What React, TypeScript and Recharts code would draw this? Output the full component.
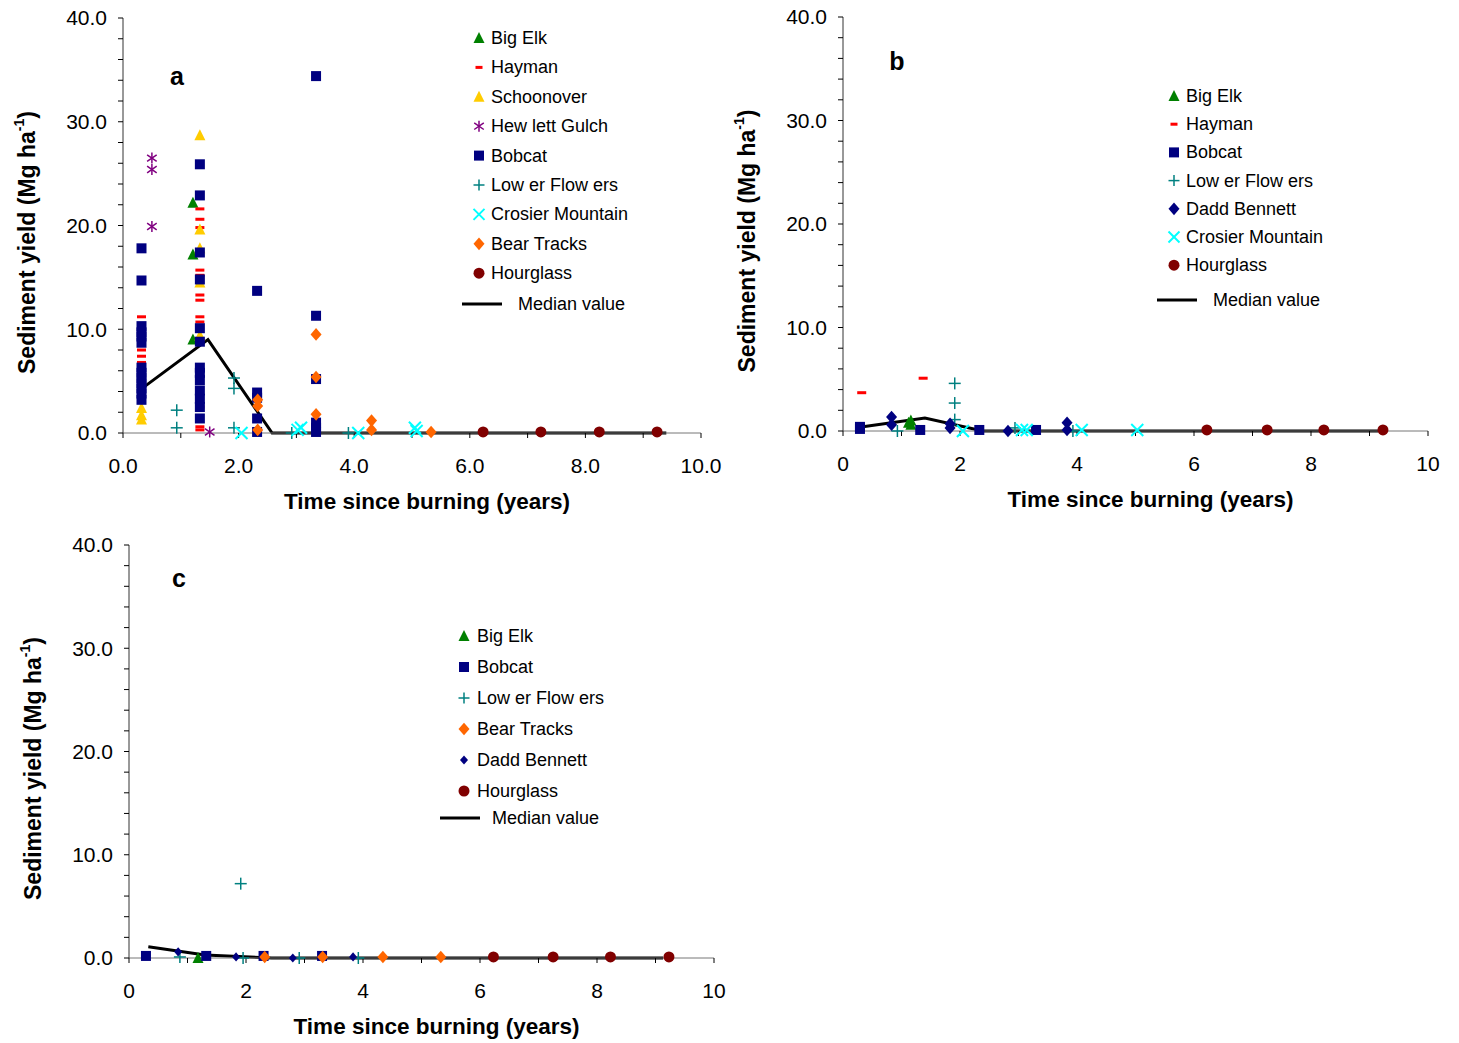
import React from "react";
import { ComposedChart, Scatter, Line, XAxis, YAxis, Legend } from "recharts";

type Pt = [number, number];

// ---- panel a ----
const aBigElk: Pt[] = [[1.21, 22.2], [1.21, 17.2], [1.21, 9.0]];
const aHayman: Pt[] = [
  [0.32, 11.2], [0.32, 9.5], [0.32, 8.0], [0.32, 7.4], [0.32, 6.8], [0.32, 5.5], [0.32, 3.0],
  [1.33, 21.6], [1.33, 20.6], [1.33, 19.8], [1.33, 15.7], [1.33, 15.2], [1.33, 13.3],
  [1.33, 12.8], [1.33, 11.2], [1.33, 10.7], [1.33, 2.5], [1.33, 0.6], [1.33, 0.3],
];
const aSchoonover: Pt[] = [
  [0.32, 2.4], [0.32, 1.7], [0.32, 1.3],
  [1.33, 28.7], [1.33, 19.6], [1.33, 17.8], [1.33, 14.5], [1.33, 9.4],
];
const aHewlett: Pt[] = [[0.5, 26.5], [0.5, 25.4], [0.5, 19.9], [1.5, 0.1]];
const aBobcat: Pt[] = [
  [0.32, 17.8], [0.32, 14.7], [0.32, 10.3], [0.32, 9.7], [0.32, 9.3], [0.32, 8.7],
  [0.32, 6.3], [0.32, 5.8], [0.32, 5.3], [0.32, 4.8], [0.32, 4.3], [0.32, 3.8], [0.32, 3.2],
  [1.33, 25.9], [1.33, 22.9], [1.33, 17.4], [1.33, 14.8], [1.33, 10.1], [1.33, 8.8],
  [1.33, 6.3], [1.33, 5.8], [1.33, 5.1], [1.33, 4.1], [1.33, 3.3], [1.33, 2.5], [1.33, 1.4],
  [2.32, 13.7], [2.32, 3.9], [2.32, 3.4], [2.32, 1.4], [2.32, 0.1],
  [3.34, 34.4], [3.34, 11.3], [3.34, 5.2], [3.34, 1.0], [3.34, 0.5], [3.34, 0.1],
];
const aLowerFlowers: Pt[] = [
  [0.93, 2.2], [0.93, 0.5], [1.92, 5.3], [1.92, 4.3], [1.92, 0.5], [2.92, 0.0], [3.9, 0.0],
];
const aCrosier: Pt[] = [[2.05, 0.0], [3.02, 0.3], [3.08, 0.5], [4.07, 0.0], [5.05, 0.5], [5.08, 0.2]];
const aBearTracks: Pt[] = [
  [2.33, 3.2], [2.33, 2.6], [2.33, 0.3], [3.34, 9.5], [3.34, 5.4], [3.34, 1.8],
  [4.3, 1.2], [4.3, 0.3], [5.33, 0.1],
];
const aHourglass: Pt[] = [[6.23, 0.1], [7.23, 0.1], [8.24, 0.1], [9.24, 0.1]];
const aMedian: Pt[] = [[0.33, 4.3], [1.47, 9.0], [2.58, 0.0], [9.4, 0.0]];

// ---- panel b ----
const bBigElk: Pt[] = [[1.16, 1.0], [1.12, 0.8], [1.16, 0.6]];
const bHayman: Pt[] = [[0.32, 3.7], [1.37, 5.1]];
const bBobcat: Pt[] = [[0.29, 0.4], [0.29, 0.2], [1.32, 0.1], [2.33, 0.1], [3.3, 0.1]];
const bLowerFlowers: Pt[] = [[0.93, 0.0], [1.91, 4.6], [1.91, 2.7], [1.91, 1.1], [2.94, 0.3], [3.93, 0.0]];
const bDadd: Pt[] = [[0.83, 1.35], [0.83, 0.6], [1.83, 0.7], [1.83, 0.3], [2.82, 0.0], [3.83, 0.8], [3.83, 0.1]];
const bCrosier: Pt[] = [[2.05, 0.0], [3.06, 0.1], [3.14, 0.1], [4.08, 0.1], [5.03, 0.1]];
const bHourglass: Pt[] = [[6.22, 0.1], [7.25, 0.1], [8.22, 0.1], [9.23, 0.1]];
const bMedian: Pt[] = [[0.34, 0.4], [1.4, 1.25], [2.39, 0.0], [9.15, 0.0]];

// ---- panel c ----
const cBigElk: Pt[] = [[1.18, 0.0]];
const cBobcat: Pt[] = [[0.29, 0.2], [1.32, 0.2], [2.3, 0.2], [3.3, 0.2]];
const cLowerFlowers: Pt[] = [[0.87, 0.1], [1.91, 7.2], [1.95, 0.0], [2.91, 0.0], [3.92, 0.0]];
const cBearTracks: Pt[] = [[2.32, 0.1], [3.31, 0.1], [4.34, 0.1], [5.33, 0.1]];
const cDadd: Pt[] = [[0.84, 0.6], [1.83, 0.1], [2.8, 0.0], [3.83, 0.1]];
const cHourglass: Pt[] = [[6.23, 0.1], [7.25, 0.1], [8.23, 0.1], [9.23, 0.1]];
const cMedian: Pt[] = [[0.33, 1.1], [1.3, 0.3], [2.44, 0.0], [9.13, 0.0]];

const xTicks = [0, 1, 2, 3, 4, 5, 6, 7, 8, 9, 10];
const yTicks = [0, 2, 4, 6, 8, 10, 12, 14, 16, 18, 20, 22, 24, 26, 28, 30, 32, 34, 36, 38, 40];

const FONT = "'Liberation Sans', Arial, Helvetica, sans-serif";

type Kind = "tri" | "dash" | "star" | "square" | "plus" | "cross" | "diamond" | "circle";
type Spec = { name: string; kind: Kind; color: string; size: number };

const bigElk: Spec = { name: "Big Elk", kind: "tri", color: "#008000", size: 11 };
const hayman: Spec = { name: "Hayman", kind: "dash", color: "#ff0000", size: 9 };
const schoonover: Spec = { name: "Schoonover", kind: "tri", color: "#ffcc00", size: 11 };
const hewlett: Spec = { name: "Hew lett Gulch", kind: "star", color: "#800080", size: 11 };
const bobcat: Spec = { name: "Bobcat", kind: "square", color: "#000080", size: 10 };
const lowerFlowers: Spec = { name: "Low er Flow ers", kind: "plus", color: "#008080", size: 12 };
const crosier: Spec = { name: "Crosier Mountain", kind: "cross", color: "#00ffff", size: 12 };
const bearTracks: Spec = { name: "Bear Tracks", kind: "diamond", color: "#ff6600", size: 11 };
const hourglass: Spec = { name: "Hourglass", kind: "circle", color: "#800000", size: 11 };
const dadd: Spec = { name: "Dadd Bennett", kind: "diamond", color: "#000080", size: 11 };
const daddSmall: Spec = { ...dadd, size: 8 };

function Marker({ kind, cx, cy, color, size }: { kind: Kind; cx: number; cy: number; color: string; size: number }) {
  const h = size / 2;
  switch (kind) {
    case "tri":
      return <polygon points={`${cx},${cy - h * 1.1} ${cx + h},${cy + h * 0.9} ${cx - h},${cy + h * 0.9}`} fill={color} />;
    case "dash":
      return <rect x={cx - h} y={cy - 1.5} width={size} height={3} fill={color} />;
    case "square":
      return <rect x={cx - h} y={cy - h} width={size} height={size} fill={color} />;
    case "circle":
      return <circle cx={cx} cy={cy} r={h} fill={color} />;
    case "diamond":
      return <polygon points={`${cx},${cy - h * 1.15} ${cx + h},${cy} ${cx},${cy + h * 1.15} ${cx - h},${cy}`} fill={color} />;
    case "plus":
      return (
        <g stroke={color} strokeWidth={1.5}>
          <line x1={cx - h} y1={cy} x2={cx + h} y2={cy} />
          <line x1={cx} y1={cy - h} x2={cx} y2={cy + h} />
        </g>
      );
    case "cross":
      return (
        <g stroke={color} strokeWidth={2}>
          <line x1={cx - h} y1={cy - h} x2={cx + h} y2={cy + h} />
          <line x1={cx - h} y1={cy + h} x2={cx + h} y2={cy - h} />
        </g>
      );
    case "star":
      return (
        <g stroke={color} strokeWidth={1.5}>
          <line x1={cx} y1={cy - h} x2={cx} y2={cy + h} />
          <line x1={cx - h * 0.87} y1={cy - h * 0.6} x2={cx + h * 0.87} y2={cy + h * 0.6} />
          <line x1={cx - h * 0.87} y1={cy + h * 0.6} x2={cx + h * 0.87} y2={cy - h * 0.6} />
        </g>
      );
  }
  return null;
}

type Series = Spec & { data: Pt[] };

type LegendBox = {
  left: number; top: number; width: number; height: number;
  iconX: number; textX: number; row0: number; step: number;
  medY: number; lineX1: number; lineX2: number; medTextX: number;
};

type PanelProps = {
  left: number; top: number; width: number; height: number;
  margin: { top: number; right: number; bottom: number; left: number };
  letter: string; letterPos: [number, number];
  xFmt: (v: number) => string;
  series: Series[]; legendSeries: Spec[]; median: Pt[]; legend: LegendBox;
};

function Panel(p: PanelProps) {
  const plotL = p.margin.left + 60;
  const plotR = p.width - p.margin.right;
  const plotT = p.margin.top;
  const plotB = p.height - p.margin.bottom - 30;
  const lg = p.legend;
  return (
    <div style={{ position: "absolute", left: p.left, top: p.top }}>
      <ComposedChart width={p.width} height={p.height} margin={p.margin}>
        <XAxis
          type="number" dataKey="x" domain={[0, 10]} ticks={xTicks} interval={0}
          tickFormatter={p.xFmt} height={30} tickSize={5} tickMargin={20}
          axisLine={{ stroke: "#777" }} tickLine={{ stroke: "#000" }}
          tick={{ fill: "#000", fontSize: 21 }}
          label={() => (
            <text x={(plotL + plotR) / 2 + 15} y={plotB + 76} textAnchor="middle" fontSize={22.5} fontWeight="bold" fill="#000">
              Time since burning (years)
            </text>
          )}
        />
        <YAxis
          type="number" dataKey="y" domain={[0, 40]} ticks={yTicks} interval={0}
          tickFormatter={(v: number) => (v % 10 === 0 ? v.toFixed(1) : "")}
          width={60} tickSize={5} tickMargin={11}
          axisLine={{ stroke: "#333" }} tickLine={{ stroke: "#000" }}
          tick={{ fill: "#000", fontSize: 21 }}
          label={() => {
            const cx = plotL - 96;
            const cy = (plotT + plotB) / 2 + 17;
            return (
              <g>
                <text x={cx} y={cy} transform={`rotate(-90, ${cx}, ${cy})`} textAnchor="middle" dominantBaseline="central" fontSize={23} fontWeight="bold" fill="#000">
                  Sediment yield (Mg ha<tspan dy={-8} fontSize={14}>-1</tspan><tspan dy={8}>)</tspan>
                </text>
                <text x={p.letterPos[0]} y={p.letterPos[1]} textAnchor="middle" fontSize={25} fontWeight="bold" fill="#000">
                  {p.letter}
                </text>
              </g>
            );
          }}
        />
        {p.series.map((s) => (
          <Scatter
            key={s.name}
            name={s.name}
            data={s.data.map(([x, y]) => ({ x, y }))}
            isAnimationActive={false}
            shape={(q: any) => <Marker kind={s.kind} cx={q.cx} cy={q.cy} color={s.color} size={s.size} />}
          />
        ))}
        <Line
          data={p.median.map(([x, y]) => ({ x, y }))}
          dataKey="y" stroke="#000" strokeWidth={3} dot={false}
          isAnimationActive={false} name="Median value"
        />
        <Legend
          layout="vertical" align="center" verticalAlign="middle"
          wrapperStyle={{ left: lg.left, top: lg.top, width: lg.width, height: lg.height }}
          content={() => (
            <svg width={lg.width} height={lg.height} style={{ fontFamily: FONT }}>
              {p.legendSeries.map((s, i) => (
                <g key={s.name}>
                  <Marker kind={s.kind} cx={lg.iconX} cy={lg.row0 + i * lg.step} color={s.color} size={s.kind === "dash" ? 7 : Math.min(s.size, 11)} />
                  <text x={lg.textX} y={lg.row0 + i * lg.step} dominantBaseline="central" fontSize={18} fill="#000">{s.name}</text>
                </g>
              ))}
              <line x1={lg.lineX1} x2={lg.lineX2} y1={lg.medY} y2={lg.medY} stroke="#000" strokeWidth={3} />
              <text x={lg.medTextX} y={lg.medY} dominantBaseline="central" fontSize={18} fill="#000">Median value</text>
            </svg>
          )}
        />
      </ComposedChart>
    </div>
  );
}

const aSeries: Series[] = [
  { ...bigElk, data: aBigElk }, { ...hayman, data: aHayman }, { ...schoonover, data: aSchoonover },
  { ...hewlett, data: aHewlett }, { ...bobcat, data: aBobcat }, { ...lowerFlowers, data: aLowerFlowers },
  { ...crosier, data: aCrosier }, { ...bearTracks, data: aBearTracks }, { ...hourglass, data: aHourglass },
];
const bSeries: Series[] = [
  { ...bigElk, data: bBigElk }, { ...hayman, data: bHayman }, { ...bobcat, data: bBobcat },
  { ...lowerFlowers, data: bLowerFlowers }, { ...dadd, data: bDadd }, { ...crosier, data: bCrosier },
  { ...hourglass, data: bHourglass },
];
const cSeries: Series[] = [
  { ...bigElk, data: cBigElk }, { ...bobcat, data: cBobcat }, { ...lowerFlowers, data: cLowerFlowers },
  { ...bearTracks, data: cBearTracks }, { ...daddSmall, data: cDadd }, { ...hourglass, data: cHourglass },
];

export default function App() {
  return (
    <div style={{ position: "absolute", left: 0, top: 0, width: 1459, height: 1043, background: "#fff", fontFamily: FONT }}>
      <Panel
        left={0} top={0} width={760} height={530}
        margin={{ top: 18, right: 59, bottom: 67, left: 63 }}
        letter="a" letterPos={[177, 85]}
        xFmt={(v) => (v % 2 === 0 ? v.toFixed(1) : "")}
        series={aSeries} legendSeries={aSeries} median={aMedian}
        legend={{ left: 455, top: 20, width: 240, height: 300, iconX: 24, textX: 36, row0: 18, step: 29.4, medY: 284, lineX1: 7, lineX2: 47, medTextX: 63 }}
      />
      <Panel
        left={720} top={0} width={739} height={530}
        margin={{ top: 17, right: 31, bottom: 69, left: 63 }}
        letter="b" letterPos={[177, 70]}
        xFmt={(v) => (v % 2 === 0 ? String(v) : "")}
        series={bSeries} legendSeries={bSeries} median={bMedian}
        legend={{ left: 430, top: 80, width: 240, height: 240, iconX: 24, textX: 36, row0: 16, step: 28.2, medY: 220, lineX1: 7, lineX2: 47, medTextX: 63 }}
      />
      <Panel
        left={0} top={520} width={760} height={523}
        margin={{ top: 25, right: 46, bottom: 55, left: 69 }}
        letter="c" letterPos={[179, 67]}
        xFmt={(v) => (v % 2 === 0 ? String(v) : "")}
        series={cSeries} legendSeries={cSeries} median={cMedian}
        legend={{ left: 435, top: 100, width: 240, height: 220, iconX: 29, textX: 42, row0: 16, step: 31, medY: 198, lineX1: 5, lineX2: 45, medTextX: 57 }}
      />
    </div>
  );
}
